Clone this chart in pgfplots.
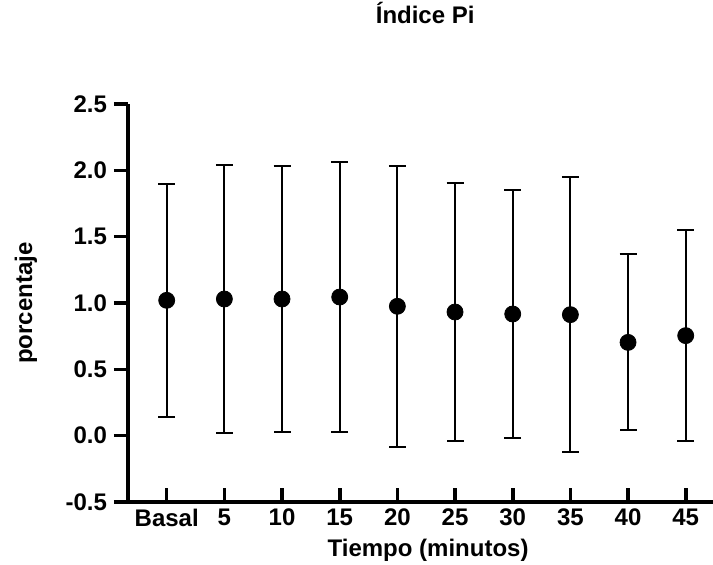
\documentclass[border=0pt]{standalone}
\usepackage{fontspec}
\setmainfont{Liberation Sans}
\usepackage{pgfplots}
\pgfplotsset{compat=1.18}

\pgfplotstableread{
x   y      e
0   1.020  0.880
1   1.030  1.010
2   1.030  1.005
3   1.045  1.015
4   0.975  1.060
5   0.932  0.970
6   0.917  0.937
7   0.912  1.035
8   0.703  0.663
9   0.754  0.795
}\pitable

\begin{document}
\begin{tikzpicture}[font=\bfseries\fontsize{12}{14}\selectfont]
\path[use as bounding box] (0,0) rectangle (356.5pt,282.5pt);
\begin{axis}[
  at={(64pt,31.5pt)}, anchor=south west,
  scale only axis, width=292.5pt, height=199pt,
  xmin=-0.671, xmax=9.473, ymin=-0.5, ymax=2.5,
  axis x line*=bottom, axis y line*=left,
  axis line style={line width=1.8pt, -},
  xtick={0,1,2,3,4,5,6,7,8,9},
  xticklabels={Basal,5,10,15,20,25,30,35,40,45},
  ytick={-0.5,0,0.5,1,1.5,2,2.5},
  yticklabel style={/pgf/number format/.cd, fixed, fixed zerofill, precision=1, assume math mode=true},
  xtick align=inside, ytick align=outside,
  major tick length=7pt,
  tick style={line width=1.8pt, black},
  minor tick num=0,
  title={Índice Pi},
  title style={at={(axis description cs:0.508,1.173)}, anchor=base},
  xlabel={Tiempo (minutos)},
  xlabel style={at={(axis description cs:0.513,-0.137)}, anchor=base},
  ylabel={porcentaje},
  ylabel style={at={(axis description cs:-0.164,0.5)}, anchor=base},
  clip=false,
]
\addplot[only marks, mark=*, mark size=4pt, black,
  error bars/.cd, y dir=both, y explicit,
  error bar style={line width=1pt, black},
  error mark options={line width=1pt, mark size=4.25pt, rotate=90, black}]
  table[x=x, y=y, y error=e] {\pitable};
\end{axis}
\end{tikzpicture}
\end{document}
